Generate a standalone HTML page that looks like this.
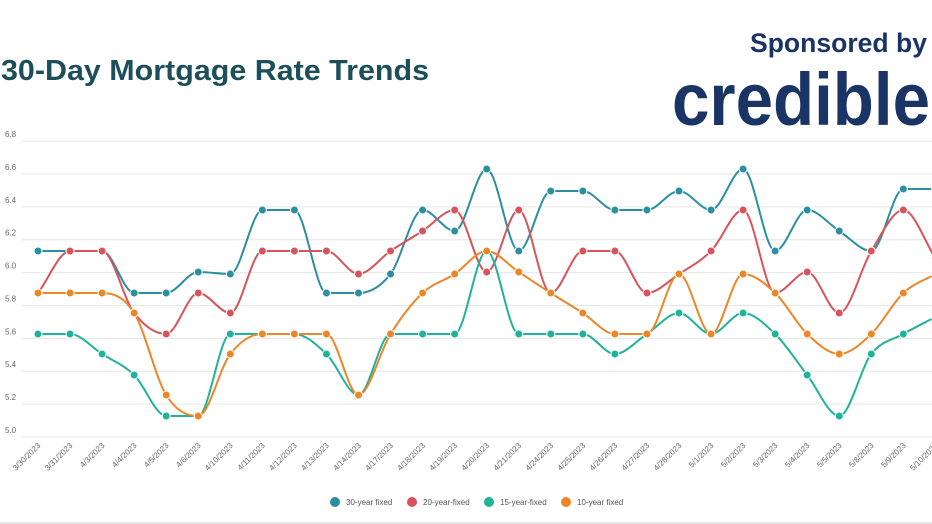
<!DOCTYPE html>
<html><head><meta charset="utf-8"><style>
html,body{margin:0;padding:0;background:#fff;}
body{width:932px;height:524px;overflow:hidden;position:relative;font-family:"Liberation Sans",sans-serif;}
svg{position:absolute;left:0;top:0;}
</style></head><body>
<svg id="g" width="932" height="524" xmlns="http://www.w3.org/2000/svg"></svg>
<script>
var svg=document.getElementById('g'),h='';
h+='<text x="1" y="80" font-size="29" font-weight="bold" fill="#1d4f5b" textLength="428" lengthAdjust="spacingAndGlyphs">30-Day Mortgage Rate Trends</text>';
h+='<text x="750" y="52" font-size="27" font-weight="bold" fill="#1a3466" textLength="177" lengthAdjust="spacingAndGlyphs">Sponsored by</text>';
h+='<text x="672" y="125" font-size="74" font-weight="bold" fill="#1a3466" textLength="258" lengthAdjust="spacingAndGlyphs">credible</text>';
function Y(v){return 437-(v-5)*164.4;}
var ticks=['5.0','5.2','5.4','5.6','5.8','6.0','6.2','6.4','6.6','6.8'];
ticks.forEach(function(t,i){var y=Y(5+i*0.2);h+='<line x1="22" x2="932" y1="'+y+'" y2="'+y+'" stroke="#e6e6e6" stroke-width="1"/>';h+='<text x="5" y="'+(y-4)+'" font-size="8" fill="#666">'+t+'</text>';});
var dates=['3/30/2023','3/31/2023','4/3/2023','4/4/2023','4/5/2023','4/6/2023','4/10/2023','4/11/2023','4/12/2023','4/13/2023','4/14/2023','4/17/2023','4/18/2023','4/19/2023','4/20/2023','4/21/2023','4/24/2023','4/25/2023','4/26/2023','4/27/2023','4/28/2023','5/1/2023','5/2/2023','5/3/2023','5/4/2023','5/5/2023','5/8/2023','5/9/2023','5/10/2023'];
function X(i){return 38+i*32.05;}
dates.forEach(function(d,i){var x=X(i)+3,y=446;h+='<text x="'+x+'" y="'+y+'" font-size="8" fill="#666" text-anchor="end" transform="rotate(-45 '+x+' '+y+')">'+d+'</text>';});
var S=[
['#2a8fa0',[251,251,251,293,293,272,274,210,210,293,293,274,210,231,169,251,191,191,210,210,191,210,169,251,210,231,251,189,189]],
['#d9535b',[293,251,251,313,334,293,313,251,251,251,274,251,231,210,272,210,293,251,251,293,274,251,210,293,272,313,251,210,258]],
['#1fb39a',[334,334,354,375,416,416,334,334,334,354,395,334,334,334,251,334,334,334,354,334,313,334,313,334,375,416,354,334,317]],
['#ee8527',[293,293,293,313,395,416,354,334,334,334,395,334,293,274,251,272,293,313,334,334,274,334,274,293,334,354,334,293,274]]];
function mono(ys){var n=ys.length,xs=ys.map(function(_,i){return X(i);}),d=[],m=[];
for(var i=0;i<n-1;i++)d.push((ys[i+1]-ys[i])/(xs[i+1]-xs[i]));
for(i=0;i<n;i++){if(i==0)m.push(d[0]);else if(i==n-1)m.push(d[n-2]);else{if(d[i-1]*d[i]<=0)m.push(0);else m.push((d[i-1]+d[i])/2);}}
for(i=0;i<n-1;i++){if(d[i]==0){m[i]=0;m[i+1]=0;continue;}var a=m[i]/d[i],b=m[i+1]/d[i],s=a*a+b*b;if(s>9){var t=3/Math.sqrt(s);m[i]=t*a*d[i];m[i+1]=t*b*d[i];}}
var p='M'+xs[0]+' '+ys[0];for(i=0;i<n-1;i++){var dx=(xs[i+1]-xs[i])/3;p+=' C'+(xs[i]+dx)+' '+(ys[i]+m[i]*dx)+' '+(xs[i+1]-dx)+' '+(ys[i+1]-m[i+1]*dx)+' '+xs[i+1]+' '+ys[i+1];}return p;}
S.forEach(function(s){h+='<path d="'+mono(s[1])+'" fill="none" stroke="'+s[0]+'" stroke-width="2"/>';});
S.forEach(function(s){s[1].forEach(function(y,i){h+='<circle cx="'+X(i)+'" cy="'+y+'" r="4" fill="'+s[0]+'" stroke="#fff" stroke-width="1"/>';});});
var L=[['#2a8fa0','30-year fixed',335],['#d9535b','20-year-fixed',412],['#1fb39a','15-year-fixed',489],['#ee8527','10-year fixed',566]];
L.forEach(function(l){h+='<circle cx="'+l[2]+'" cy="502" r="5" fill="'+l[0]+'"/><text x="'+(l[2]+11)+'" y="505" font-size="8" fill="#555">'+l[1]+'</text>';});
h+='<line x1="0" x2="932" y1="523" y2="523" stroke="#ccc"/>';
svg.innerHTML=h;
</script>
</body></html>
